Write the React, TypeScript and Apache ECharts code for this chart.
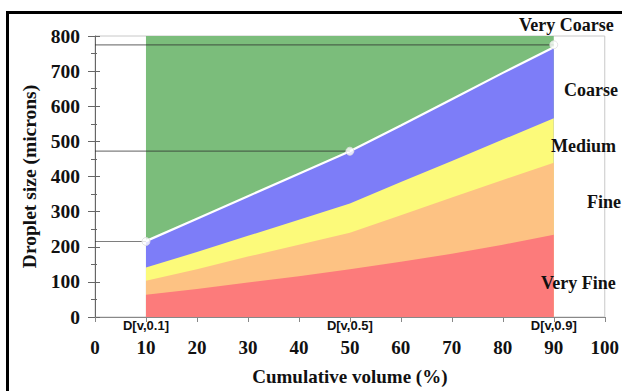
import React, { useEffect, useRef } from "react";
import * as echarts from "echarts";

const xValues = [10, 20, 30, 40, 50, 60, 70, 80, 90];
const veryFineTop = [63, 80, 98, 116, 136, 157, 180, 206, 234];
const fineTop = [103, 136, 172, 206, 240, 290, 340, 390, 439];
const mediumTop = [141, 185, 231, 277, 323, 384, 444, 505, 566];
const coarseTop = [216, 280, 344, 408, 472, 545, 620, 695, 768];
const veryCoarseTop = [800, 800, 800, 800, 800, 800, 800, 800, 800];

const dvX = [10, 50, 90];
const dvY = [215, 472, 775];
const dvLabels = ["D[v,0.1]", "D[v,0.5]", "D[v,0.9]"];

const classNames = ["Very Coarse", "Coarse", "Medium", "Fine", "Very Fine"];

const SERIF = "'Liberation Serif', 'Times New Roman', serif";
const SANS = "'Liberation Sans', Arial, sans-serif";

export default function App() {
  const ref = useRef<HTMLDivElement>(null);
  useEffect(() => {
    const chart = echarts.init(ref.current!, null, { renderer: "svg" });
    const pairs = (ys: number[]) => xValues.map((x, i) => [x, ys[i]]);
    const area = (name: string, ys: number[], color: string, line?: any) => ({
      name,
      type: "line",
      data: pairs(ys),
      showSymbol: false,
      symbol: "none",
      lineStyle: line || { width: 0, color },
      areaStyle: { color, opacity: 1, origin: "start" },
      itemStyle: { color },
      silent: true,
    });
    const refLines = dvX.map((x, i) => ({
      type: "line",
      data: [
        [0, dvY[i]],
        [x, dvY[i]],
      ],
      showSymbol: false,
      symbol: "none",
      lineStyle: { color: "rgba(40,40,40,0.6)", width: 1.2 },
      silent: true,
      z: 3,
    }));
    const labelPos = [
      { x: 519, y: 25 },
      { x: 564, y: 90 },
      { x: 551, y: 146 },
      { x: 587, y: 202 },
      { x: 541, y: 283 },
    ];
    chart.setOption({
      animation: false,
      backgroundColor: "#fff",
      grid: {
        left: 95,
        right: 15,
        top: 36,
        bottom: 73,
        show: true,
        borderColor: "#c8c8c8",
        borderWidth: 1,
        backgroundColor: "transparent",
      },
      xAxis: [
        {
          type: "value",
          min: 0,
          max: 100,
          interval: 10,
          name: "Cumulative volume (%)",
          nameLocation: "middle",
          nameGap: 50,
          nameTextStyle: { fontFamily: SERIF, fontWeight: "bold", fontSize: 19, color: "#111" },
          axisLine: { show: true, lineStyle: { color: "#888", width: 1 } },
          axisTick: { show: true, length: 5, lineStyle: { color: "#888" } },
          axisLabel: { fontFamily: SERIF, fontWeight: "bold", fontSize: 19, color: "#111", margin: 21 },
          splitLine: { show: false },
        },
        {
          type: "value",
          position: "bottom",
          min: 0,
          max: 100,
          interval: 10,
          axisLine: { show: false },
          axisTick: { show: false },
          splitLine: { show: false },
          axisLabel: {
            customValues: dvX,
            formatter: (v: number) => dvLabels[dvX.indexOf(v)] ?? "",
            fontFamily: SANS,
            fontWeight: "bold",
            fontSize: 13,
            color: "#111",
            margin: 2,
          },
        },
      ],
      yAxis: [
        {
          type: "value",
          min: 0,
          max: 800,
          interval: 100,
          name: "Droplet size (microns)",
          nameLocation: "middle",
          nameGap: 51,
          nameTextStyle: { fontFamily: SERIF, fontWeight: "bold", fontSize: 19.5, color: "#111" },
          axisLine: { show: true, lineStyle: { color: "#666", width: 1 } },
          axisTick: { show: true, length: 7, lineStyle: { color: "#666" } },
          minorTick: { show: true, splitNumber: 2, length: 4, lineStyle: { color: "#666" } },
          axisLabel: { fontFamily: SERIF, fontWeight: "bold", fontSize: 19.5, color: "#111", margin: 15 },
          splitLine: { show: false },
        },
        {
          type: "value",
          position: "left",
          min: 0,
          max: 800,
          interval: 100,
          axisLine: { show: false },
          axisTick: { show: true, inside: true, length: 5, lineStyle: { color: "#666" } },
          minorTick: { show: true, splitNumber: 2, length: 2, lineStyle: { color: "#666" } },
          axisLabel: { show: false },
          splitLine: { show: false },
        },
      ],
      series: [
        area(classNames[0], veryCoarseTop, "#7bbd7b"),
        area(classNames[1], coarseTop, "#7d7df8", { width: 2.2, color: "#ffffff" }),
        area(classNames[2], mediumTop, "#fcfa7a"),
        area(classNames[3], fineTop, "#fdc283"),
        area(classNames[4], veryFineTop, "#fc7b7b"),
        ...refLines,
        {
          type: "scatter",
          data: dvX.map((x, i) => [x, dvY[i]]),
          symbol: "circle",
          symbolSize: 8,
          itemStyle: { color: "#fff", borderColor: "#ddd", borderWidth: 1 },
          silent: true,
          z: 5,
        },
      ],
      graphic: [
        {
          type: "rect",
          shape: { x: 7.5, y: 12.5, width: 800, height: 600 },
          style: { fill: "none", stroke: "#000", lineWidth: 3 },
          silent: true,
          z: 100,
        },
        ...classNames.map((t, i) => ({
          type: "text",
          x: labelPos[i].x,
          y: labelPos[i].y,
          z: 100,
          style: {
            text: t,
            fontFamily: SERIF,
            fontWeight: "bold",
            fontSize: 18,
            fill: "#111",
            verticalAlign: "middle",
            align: "left",
          },
          silent: true,
        })),
      ],
    });
    return () => chart.dispose();
  }, []);
  return (
    <div
      ref={ref}
      style={{ position: "absolute", left: 0, top: 0, width: 622, height: 391 }}
    />
  );
}
